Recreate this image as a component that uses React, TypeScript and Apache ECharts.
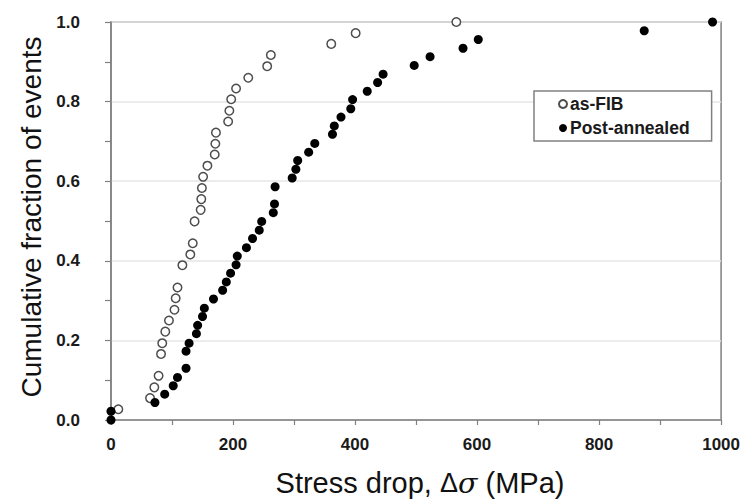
import { useEffect, useRef } from "react";
import * as echarts from "echarts";

const seriesNames = ["as-FIB", "Post-annealed"];

const asFibX = [12, 64, 71, 78, 82, 84, 89, 95, 104, 106, 109, 117, 130, 134, 137, 147, 148, 149, 151, 158, 170, 171, 172, 192, 194, 197, 205, 225, 256, 262, 361, 401, 566];
const asFibY = [0.027, 0.055, 0.082, 0.111, 0.166, 0.193, 0.222, 0.25, 0.277, 0.306, 0.333, 0.389, 0.416, 0.444, 0.499, 0.528, 0.555, 0.583, 0.611, 0.639, 0.667, 0.694, 0.722, 0.75, 0.777, 0.806, 0.833, 0.86, 0.889, 0.917, 0.945, 0.972, 1.0];

const postX = [0, 0, 72, 88, 102, 109, 123, 123, 128, 140, 142, 150, 153, 168, 183, 189, 196, 205, 207, 222, 232, 243, 247, 266, 268, 269, 297, 303, 306, 324, 334, 363, 366, 377, 393, 396, 420, 437, 446, 497, 523, 577, 602, 874, 986];
const postY = [0, 0.022, 0.044, 0.065, 0.086, 0.107, 0.13, 0.173, 0.193, 0.217, 0.238, 0.26, 0.281, 0.304, 0.326, 0.347, 0.369, 0.39, 0.412, 0.433, 0.456, 0.477, 0.499, 0.521, 0.543, 0.586, 0.608, 0.63, 0.652, 0.673, 0.695, 0.718, 0.739, 0.761, 0.782, 0.805, 0.826, 0.848, 0.869, 0.891, 0.913, 0.934, 0.956, 0.978, 1.0];

const xTitle = "Stress drop, ";
const yTitle = "Cumulative fraction of events";

const FONT = "'Liberation Sans', Arial, Helvetica, sans-serif";
const AXIS_COLOR = "#808080";

export default function App() {
  const ref = useRef<HTMLDivElement>(null);
  useEffect(() => {
    if (!ref.current) return;
    const chart = echarts.init(ref.current, null, { renderer: "svg" });
    const pair = (xs: number[], ys: number[]) => xs.map((x, i) => [x, ys[i]]);
    chart.setOption({
      animation: false,
      backgroundColor: "#ffffff",
      grid: {
        show: true,
        left: 111,
        top: 22,
        width: 613,
        height: 398,
        borderColor: AXIS_COLOR,
        borderWidth: 1.5,
        backgroundColor: "transparent",
      },
      legend: {
        orient: "vertical",
        left: 534,
        top: 91,
        padding: [3, 22, 3, 24],
        itemGap: 4,
        itemWidth: 8,
        itemHeight: 8,
        icon: "circle",
        backgroundColor: "#ffffff",
        borderColor: AXIS_COLOR,
        borderWidth: 1.5,
        borderRadius: 0,
        textStyle: {
          fontFamily: FONT,
          fontWeight: "bold",
          fontSize: 17.5,
          lineHeight: 20,
          color: "#1a1a1a",
          padding: [0, 0, 0, -2],
        },
        data: seriesNames,
      },
      xAxis: {
        type: "value",
        min: 0,
        max: 1000,
        interval: 200,
        axisLine: { show: true, lineStyle: { color: AXIS_COLOR, width: 1.5 } },
        axisTick: { show: true, length: 5, lineStyle: { color: AXIS_COLOR, width: 1.2 } },
        minorTick: { show: true, splitNumber: 2, length: 5, lineStyle: { color: AXIS_COLOR, width: 1.2 } },
        splitLine: { show: false },
        axisLabel: {
          margin: 16,
          fontFamily: FONT,
          fontWeight: "bold",
          fontSize: 17,
          color: "#1a1a1a",
          formatter: (v: number) => String(v),
        },
      },
      yAxis: {
        type: "value",
        min: 0,
        max: 1,
        interval: 0.2,
        axisLine: { show: true, lineStyle: { color: AXIS_COLOR, width: 1.5 } },
        axisTick: { show: true, length: 6, lineStyle: { color: AXIS_COLOR, width: 1.2 } },
        minorTick: { show: true, splitNumber: 2, length: 6, lineStyle: { color: AXIS_COLOR, width: 1.2 } },
        splitLine: { show: true, lineStyle: { color: "#e6e6e6", width: 1.5 } },
        axisLabel: {
          margin: 31,
          fontFamily: FONT,
          fontWeight: "bold",
          fontSize: 17,
          color: "#1a1a1a",
          formatter: (v: number) => v.toFixed(1),
        },
      },
      graphic: [
        {
          type: "text",
          x: 31,
          y: 217,
          rotation: Math.PI / 2,
          style: {
            text: yTitle,
            font: `28px ${FONT}`,
            fill: "#111111",
            textAlign: "center",
            textVerticalAlign: "middle",
          },
        },
        {
          type: "text",
          x: 420,
          y: 483,
          style: {
            text: `{n|${xTitle}}{d|Δ}{s|σ}{n| (MPa)}`,
            textAlign: "center",
            textVerticalAlign: "middle",
            rich: {
              n: { font: `29px ${FONT}`, fill: "#111111", lineHeight: 32 },
              d: { font: `27px ${FONT}`, fill: "#111111", lineHeight: 32 },
              s: { font: `italic 28.5px 'DejaVu Serif', serif`, fill: "#111111", lineHeight: 32 },
            },
          },
        },
      ],
      series: [
        {
          name: seriesNames[0],
          type: "scatter",
          symbol: "circle",
          symbolSize: 8.5,
          itemStyle: { color: "#ffffff", borderColor: "#4d4d4d", borderWidth: 1.5, opacity: 1 },
          data: pair(asFibX, asFibY),
          clip: false,
        },
        {
          name: seriesNames[1],
          type: "scatter",
          symbol: "circle",
          symbolSize: 9,
          itemStyle: { color: "#000000", opacity: 1 },
          data: pair(postX, postY),
          clip: false,
        },
      ],
    });
    return () => chart.dispose();
  }, []);
  return (
    <div
      ref={ref}
      style={{ position: "absolute", left: 0, top: 0, width: 743, height: 501 }}
    />
  );
}
